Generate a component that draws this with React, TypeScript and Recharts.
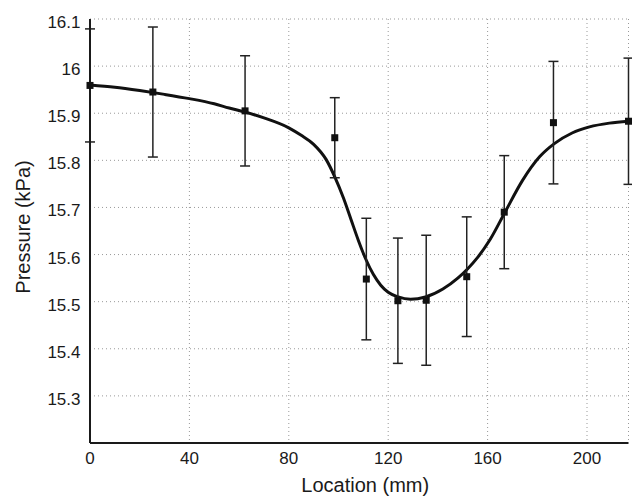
import React from 'react';
import {
  ComposedChart,
  Line,
  Scatter,
  ErrorBar,
  XAxis,
  YAxis,
  CartesianGrid,
} from 'recharts';

// Measured points (location in mm, pressure in kPa, error bar half-length)
const locations = [0, 25.3, 62.4, 98.5, 111.2, 123.9, 135.3, 151.6, 166.7, 186.5, 216.7];
const pressures = [15.959, 15.945, 15.905, 15.848, 15.548, 15.502, 15.503, 15.553, 15.69, 15.88, 15.883];
const errors = [0.12, 0.138, 0.117, 0.085, 0.129, 0.133, 0.138, 0.127, 0.12, 0.13, 0.134];

// Fitted curve
const fitX = [0, 10, 20, 30, 40, 50, 56, 62, 70, 80, 85, 90, 95, 98.5, 102, 105, 108, 111, 114, 117, 120, 124, 129, 135, 142, 148, 152, 156, 161, 167, 174, 181, 187, 194, 201, 209, 216.7];
const fitY = [15.96, 15.955, 15.948, 15.94, 15.931, 15.92, 15.911, 15.903, 15.89, 15.869, 15.853, 15.834, 15.802, 15.765, 15.72, 15.675, 15.63, 15.59, 15.558, 15.535, 15.52, 15.51, 15.505, 15.51, 15.527, 15.55, 15.57, 15.594, 15.632, 15.69, 15.757, 15.808, 15.836, 15.858, 15.871, 15.879, 15.883];

const xTicks = [0, 40, 80, 120, 160, 200];
const yTicks = [15.3, 15.4, 15.5, 15.6, 15.7, 15.8, 15.9, 16, 16.1];
const xDomain = [0, 216.7];
const yDomain = [15.2, 16.1];

const xLabel = 'Location (mm)';
const yLabel = 'Pressure (kPa)';

const points = locations.map((x, i) => ({ x, y: pressures[i], err: errors[i] }));
const fit = fitX.map((x, i) => ({ x, y: fitY[i] }));

const FONT = '"Liberation Sans", Arial, Helvetica, sans-serif';
const INK = '#1a1a1a';

const EmptyTick = () => <g />;
const NoShape = () => <g />;

const SquareDot = (props: any) => {
  const { cx, cy } = props;
  if (cx == null || cy == null) return <g />;
  return <rect x={cx - 3.5} y={cy - 3.5} width={7} height={7} fill="#111" />;
};

const YLabelContent = (props: any) => {
  const vb = props.viewBox || {};
  const x = vb.x + 23;
  const y = vb.y + vb.height / 2 - 4;
  return (
    <text
      x={x}
      y={y}
      transform={`rotate(-90, ${x}, ${y})`}
      textAnchor="middle"
      dominantBaseline="central"
      fontSize={20}
      fontFamily={FONT}
      fill={INK}
    >
      {yLabel}
    </text>
  );
};

const XLabelContent = (props: any) => {
  const vb = props.viewBox || {};
  const x = vb.x + vb.width / 2 + 6;
  const y = vb.y + 48.5;
  return (
    <text x={x} y={y} textAnchor="middle" fontSize={20} fontFamily={FONT} fill={INK}>
      {xLabel}
    </text>
  );
};

export default function App() {
  return (
    <div style={{ position: 'absolute', left: 0, top: 0, background: '#fff' }}>
      <ComposedChart
        width={632}
        height={496}
        margin={{ top: 19, right: 3.5, bottom: 0, left: 0 }}
        style={{ fontFamily: FONT }}
      >
        <CartesianGrid stroke="#999" strokeDasharray="1 3" strokeWidth={1} />
        {/* inner tick axes (declared first so they sit on the plot edge) */}
        <XAxis
          xAxisId="bottomIn"
          type="number"
          dataKey="x"
          domain={xDomain}
          ticks={xTicks}
          orientation="bottom"
          mirror
          height={0}
          tick={EmptyTick}
          tickSize={4}
          axisLine={false}
          tickLine={{ stroke: INK }}
        />
        <YAxis
          yAxisId="leftIn"
          type="number"
          domain={yDomain}
          ticks={yTicks}
          orientation="left"
          mirror
          width={0}
          tick={EmptyTick}
          tickSize={4}
          axisLine={false}
          tickLine={{ stroke: INK }}
        />
        <XAxis
          type="number"
          dataKey="x"
          domain={xDomain}
          ticks={xTicks}
          height={53}
          tickLine={false}
          tickSize={0}
          tickMargin={9}
          axisLine={{ stroke: INK, strokeWidth: 2 }}
          tick={{ fontSize: 17, fill: INK, fontFamily: FONT }}
          label={<XLabelContent />}
        />
        <YAxis
          type="number"
          domain={yDomain}
          ticks={yTicks}
          width={90}
          tickLine={false}
          tickSize={0}
          tickMargin={9.5}
          axisLine={{ stroke: INK, strokeWidth: 2 }}
          tick={{ fontSize: 17, fill: INK, fontFamily: FONT, dy: 3 }}
          label={{ content: YLabelContent }}
        />
        <XAxis
          xAxisId="top"
          type="number"
          dataKey="x"
          domain={xDomain}
          ticks={xTicks}
          orientation="top"
          mirror
          height={0}
          allowDataOverflow
          tick={EmptyTick}
          tickSize={4}
          axisLine={{ stroke: INK, strokeWidth: 1.5 }}
          tickLine={{ stroke: INK }}
        />
        <YAxis
          yAxisId="right"
          type="number"
          domain={yDomain}
          ticks={yTicks}
          orientation="right"
          mirror
          width={0}
          allowDataOverflow
          tick={EmptyTick}
          tickSize={4}
          axisLine={{ stroke: INK, strokeWidth: 2 }}
          tickLine={{ stroke: INK }}
        />
        <Line
          data={fit}
          dataKey="y"
          type="monotone"
          stroke="#111"
          strokeWidth={3}
          dot={false}
          activeDot={false}
          isAnimationActive={false}
        />
        {/* error bars, clipped to the plot area */}
        <Scatter
          data={points}
          dataKey="y"
          xAxisId="top"
          yAxisId="right"
          shape={NoShape}
          isAnimationActive={false}
        >
          <ErrorBar dataKey="err" direction="y" width={5} stroke="#222" strokeWidth={1.5} isAnimationActive={false} />
        </Scatter>
        {/* square markers */}
        <Scatter data={points} dataKey="y" shape={SquareDot} isAnimationActive={false} />
      </ComposedChart>
    </div>
  );
}
